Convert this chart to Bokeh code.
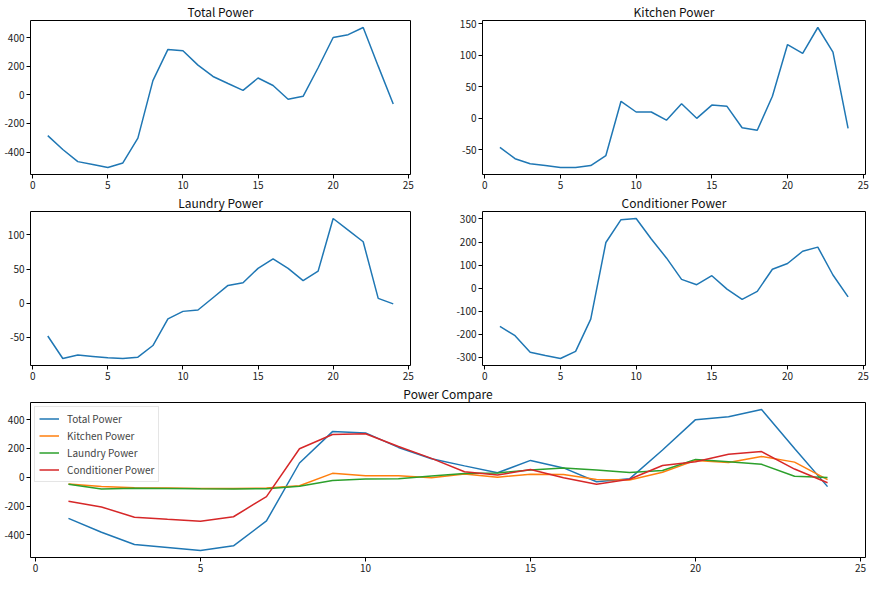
from bokeh.plotting import figure
from bokeh.layouts import column, row
from bokeh.models import SingleIntervalTicker, Legend, LegendItem, DataRange1d, NumeralTickFormatter
from bokeh.embed import file_html
from bokeh.resources import INLINE

hours = list(range(1, 25))
total_power = [-285, -382, -467, -487, -508, -476, -303, 99, 317, 308, 207, 128,
               79, 31, 117, 65, -31, -11, 189, 400, 420, 470, 200, -65]
kitchen_power = [-46, -64, -72, -75, -78, -78, -75, -59, 27, 10, 10, -3,
                 23, 0, 21, 19, -15, -19, 35, 117, 103, 144, 105, -16]
laundry_power = [-48, -81, -76, -78, -80, -81, -79, -62, -23, -12, -10, 8,
                 26, 30, 51, 65, 51, 33, 47, 124, 107, 90, 7, -1]
conditioner_power = [-166, -206, -278, -292, -305, -274, -134, 198, 297, 302, 213, 131,
                     38, 15, 54, -4, -49, -14, 82, 107, 160, 178, 57, -38]

series_names = ["Total Power", "Kitchen Power", "Laundry Power", "Conditioner Power"]
series_values = [total_power, kitchen_power, laundry_power, conditioner_power]
y_intervals = [200, 50, 50, 100]
compare_title = "Power Compare"
colors = ["#1f77b4", "#ff7f0e", "#2ca02c", "#d62728"]
FONT = "Noto Sans CJK SC"


def style(p, title, y_interval):
    p.title.text = title
    p.title.align = "center"
    p.title.text_font = FONT
    p.title.text_font_size = "12px"
    p.title.text_font_style = "normal"
    p.title.text_color = "#111111"
    p.title.standoff = 1
    p.xgrid.visible = False
    p.ygrid.visible = False
    p.outline_line_color = "#000000"
    p.outline_line_width = 1
    p.outline_line_alpha = 1
    p.xaxis.ticker = SingleIntervalTicker(interval=5, num_minor_ticks=0)
    p.yaxis.ticker = SingleIntervalTicker(interval=y_interval, num_minor_ticks=0)
    for ax in (p.xaxis, p.yaxis):
        ax.formatter = NumeralTickFormatter(format="0")
        ax.axis_line_color = None
        ax.major_tick_in = 0
        ax.major_tick_out = 4
        ax.minor_tick_out = 0
        ax.minor_tick_in = 0
        ax.major_tick_line_color = "#000000"
        ax.major_label_text_font = FONT
        ax.major_label_text_font_size = "10px"
        ax.major_label_text_color = "#222222"
        ax.major_label_standoff = 2
    p.background_fill_color = "white"
    p.border_fill_color = "white"


def make_fig(title, width, height, left, right, top, bottom, y_interval):
    p = figure(width=width, height=height, output_backend="svg", toolbar_location=None,
               min_border_left=left, min_border_right=right,
               min_border_top=top, min_border_bottom=bottom,
               x_range=DataRange1d(range_padding=0.1),
               y_range=DataRange1d(range_padding=0.1))
    style(p, title, y_interval)
    return p


dims = [
    (432, 191, 30, 22, 0, 0),
    (441, 191, 50, 8, 0, 0),
    (432, 191, 30, 22, 0, 0),
    (441, 191, 50, 8, 0, 0),
]
figs = []
for name, vals, yi, d in zip(series_names, series_values, y_intervals, dims):
    w, h, l, r, t, b = d
    p = make_fig(name, w, h, l, r, t, b, yi)
    p.line(hours, vals, line_color=colors[0], line_width=1.5)
    figs.append(p)

p5 = make_fig(compare_title, 873, 192, 30, 8, 0, 0, 200)
items = []
for name, vals, c in zip(series_names, series_values, colors):
    r = p5.line(hours, vals, line_color=c, line_width=1.5)
    items.append(LegendItem(label=name, renderers=[r]))
leg = Legend(items=items, location="top_left")
leg.label_text_font = FONT
leg.label_text_font_size = "10px"
leg.label_height = 13
leg.glyph_height = 13
leg.glyph_width = 20
leg.spacing = 2
leg.padding = 4
leg.margin = 4
leg.label_standoff = 8
leg.border_line_color = "#cccccc"
leg.background_fill_alpha = 0.8
p5.add_layout(leg)

layout = column(row(figs[0], figs[1]), row(figs[2], figs[3]), p5)
open("out.html", "w").write(file_html(layout, INLINE))
